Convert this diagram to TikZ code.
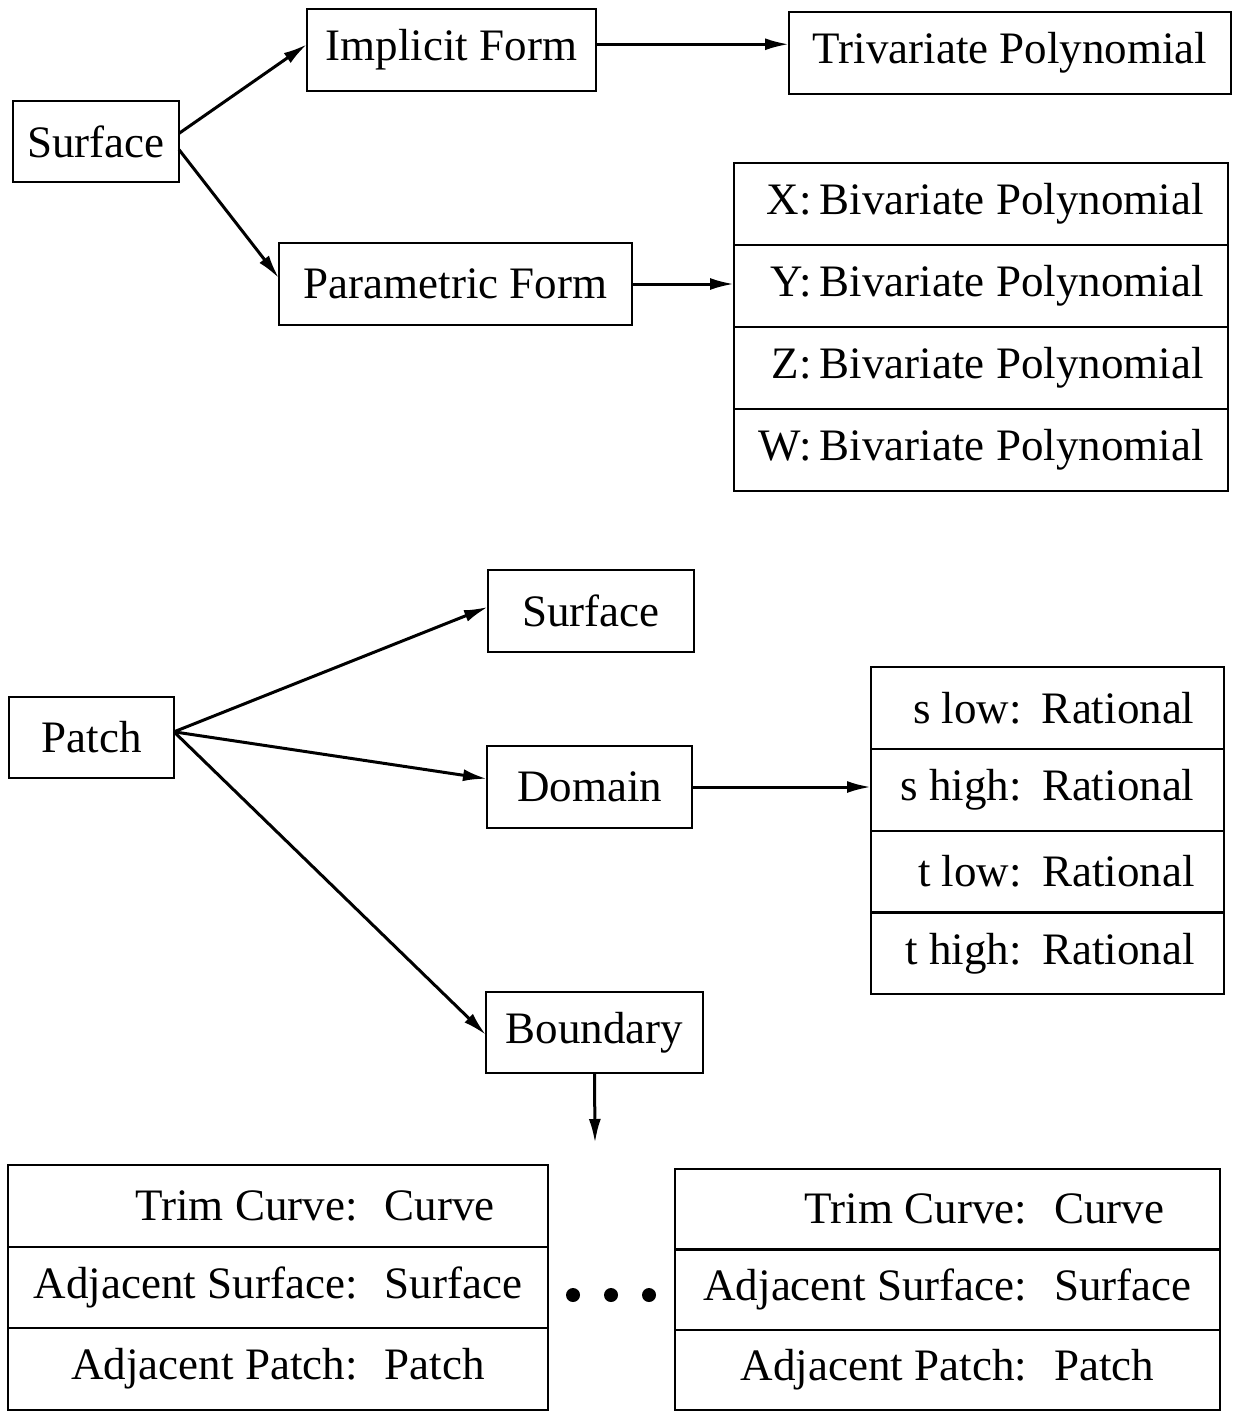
\documentclass[tikz,border=0pt]{standalone}
\usepackage{fontspec}
\setmainfont{Liberation Serif}
\usepackage{calc}
\usetikzlibrary{arrows.meta,calc}

% label right-aligned in a box as wide as #1, then a gap #3 and the value #4
\newcommand{\rowtext}[4]{\makebox[\widthof{#1}][r]{#2}\hspace{#3}#4}
\newcommand{\polyrow}[1]{\rowtext{W:}{#1}{0.18em}{Bivariate Polynomial}}
\newcommand{\limrow}[1]{\rowtext{s high:}{#1}{0.45em}{Rational}}
\newcommand{\bndrow}[2]{\rowtext{Adjacent Surface:}{#1}{0.6em}{\makebox[\widthof{Surface}][l]{#2}}}

\begin{document}
\begin{tikzpicture}[x=0.5pt,y=-0.5pt,
  every node/.style={font=\fontsize{22.5}{27}\selectfont},
  box/.style={draw, line width=1.1pt, inner sep=0pt, outer sep=0pt, anchor=north west, minimum height=41pt},
  cell/.style={draw, line width=1.1pt, inner sep=0pt, outer sep=0pt, anchor=north, minimum height=41pt},
  link/.style={line width=1.5pt, -{Latex[length=12pt,width=6pt]}}]

\useasboundingbox (0,0) rectangle (1234,1412);

% ---------- surface representations ----------
\node[box, minimum width=83pt, minimum height=40.5pt] (surf) at (13,101) {Surface};
\node[box, minimum width=144.5pt] (impl) at (307,9) {Implicit Form};
\node[box, minimum width=221pt] (triv) at (789,12) {Trivariate Polynomial};
\node[box, minimum width=176.5pt] (param) at (279,243) {Parametric Form};

\node[box, minimum width=247pt] (rx) at (734,163) {\polyrow{X:}};
\node[cell, minimum width=247pt] (ry) at (rx.south) {\polyrow{Y:}};
\node[cell, minimum width=247pt] (rz) at (ry.south) {\polyrow{Z:}};
\node[cell, minimum width=247pt] (rw) at (rz.south) {\polyrow{W:}};

\coordinate (implout) at ($(impl.north east)!0.43!(impl.south east)$);
\draw[link] ($(surf.north east)!0.4!(surf.south east)$) -- ($(impl.north west)!0.43!(impl.south west)$);
\draw[link] ($(surf.north east)!0.6!(surf.south east)$) -- ($(param.north west)!0.43!(param.south west)$);
\draw[link] (implout) -- (implout -| triv.west);
\draw[link] (param.east) -- (param.east -| ry.west);

% ---------- patch structure ----------
\node[box, minimum width=82.5pt, minimum height=40.5pt] (patch) at (9,697) {Patch};
\node[box, minimum width=103pt] (psurf) at (488,570) {Surface};
\node[box, minimum width=102.5pt] (dom) at (487,746) {Domain};
\node[box, minimum width=108.5pt, minimum height=40.5pt] (bnd) at (486,992) {Boundary};

\node[box, minimum width=176.5pt, minimum height=40.9pt] (sl) at (871,667) {\limrow{s low:}};
\node[cell, minimum width=176.5pt, minimum height=40.9pt] (sh) at (sl.south) {\limrow{s high:}};
\node[cell, minimum width=176.5pt, minimum height=40.9pt] (tl) at (sh.south) {\limrow{t low:}};
\node[cell, minimum width=176.5pt, minimum height=40.9pt] (th) at (tl.south) {\limrow{t high:}};

\coordinate (pfrom) at ($(patch.north east)!0.43!(patch.south east)$);
\draw[link] (pfrom) -- ($(psurf.north west)!0.45!(psurf.south west)$);
\draw[link] (pfrom) -- ($(dom.north west)!0.4!(dom.south west)$);
\draw[link] (pfrom) -- ($(bnd.north west)!0.53!(bnd.south west)$);
\draw[link] (dom.east) -- (dom.east -| sh.west);

\coordinate (bend) at (595,1143);
\draw[link] (bnd.south) -- (bend);

% ---------- boundary entries ----------
\node[box, minimum width=270pt, minimum height=40.8pt] (la) at (8,1165) {\bndrow{Trim Curve:}{Curve}};
\node[cell, minimum width=270pt, minimum height=40.8pt] (lb) at (la.south) {\bndrow{Adjacent Surface:}{Surface}};
\node[cell, minimum width=270pt, minimum height=40.8pt] (lc) at (lb.south) {\bndrow{Adjacent Patch:}{Patch}};

\node[box, minimum width=272.5pt, minimum height=40.2pt] (ra) at (675,1169) {\bndrow{Trim Curve:}{Curve}};
\node[cell, minimum width=272.5pt, minimum height=40.2pt] (rb) at (ra.south) {\bndrow{Adjacent Surface:}{Surface}};
\node[cell, minimum width=272.5pt, minimum height=40.2pt] (rc) at (rb.south) {\bndrow{Adjacent Patch:}{Patch}};

\foreach \dx in {573,611,649}
  \fill (\dx,1295) circle (3.5pt);

\end{tikzpicture}
\end{document}
